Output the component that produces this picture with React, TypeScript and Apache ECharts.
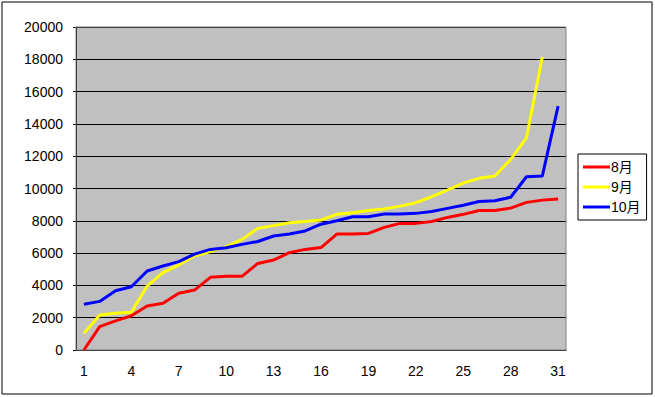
import React, { useEffect, useRef } from "react";
import * as echarts from "echarts";

const days = Array.from({ length: 31 }, (_, i) => String(i + 1));
const seriesNames = ["8月", "9月", "10月"];
const aug = [0, 1450, 1800, 2120, 2720, 2890, 3510, 3710, 4500, 4560, 4560, 5360, 5570, 6030, 6230, 6340, 7180, 7180, 7220, 7590, 7840, 7840, 7960, 8210, 8400, 8640, 8640, 8790, 9140, 9280, 9350];
const sep = [1030, 2170, 2270, 2330, 3960, 4790, 5260, 5820, 6090, 6400, 6850, 7530, 7700, 7880, 7960, 8050, 8400, 8500, 8640, 8730, 8910, 9120, 9490, 9900, 10340, 10630, 10770, 11800, 13140, 18150];
const oct = [2830, 3010, 3670, 3920, 4890, 5200, 5470, 5940, 6230, 6330, 6540, 6720, 7060, 7180, 7370, 7790, 8000, 8250, 8250, 8420, 8420, 8460, 8580, 8770, 8960, 9200, 9240, 9460, 10730, 10770, 15100];
const colors = ["#FF0000", "#FFFF00", "#0000FF"];

const FONT = "'Liberation Sans', 'Noto Sans CJK JP', sans-serif";

export default function App() {
  const ref = useRef<HTMLDivElement>(null);
  useEffect(() => {
    document.body.style.margin = "0";
    const chart = echarts.init(ref.current!, undefined, { renderer: "svg" });
    const data = [aug, sep, oct];
    chart.setOption({
      animation: false,
      backgroundColor: "#FFFFFF",
      textStyle: { fontFamily: FONT },
      graphic: [
        {
          type: "rect",
          shape: { x: 2, y: 2, width: 650, height: 392 },
          style: { fill: "none", stroke: "#000", lineWidth: 1 },
          z: 0,
        },
        {
          type: "rect",
          shape: { x: 76, y: 27, width: 490, height: 323 },
          style: { fill: "none", stroke: "#808080", lineWidth: 1 },
          z: 1,
        },
      ],
      grid: { left: 76, top: 27, width: 490, height: 323, show: true, backgroundColor: "#C0C0C0", borderWidth: 0 },
      legend: {
        orient: "vertical",
        left: 578,
        top: 154,
        data: seriesNames,
        icon: "rect",
        itemWidth: 27,
        itemHeight: 3,
        itemGap: 6,
        padding: [6, 6, 6, 5],
        borderColor: "#000",
        borderWidth: 1,
        backgroundColor: "#FFFFFF",
        textStyle: { fontSize: 14, color: "#000", fontFamily: FONT, padding: [0, 0, 0, -4] },
      },
      xAxis: {
        type: "category",
        data: days,
        boundaryGap: true,
        axisLine: { lineStyle: { color: "#000", width: 1 } },
        axisTick: { inside: true, length: 4, interval: 0, lineStyle: { color: "#000" } },
        axisLabel: { interval: 2, color: "#000", fontSize: 14, margin: 14, fontFamily: FONT },
        splitLine: { show: false },
      },
      yAxis: {
        type: "value",
        min: 0,
        max: 20000,
        interval: 2000,
        axisLine: { show: true, lineStyle: { color: "#000", width: 1 } },
        axisTick: { show: true, length: 3, lineStyle: { color: "#000" } },
        axisLabel: { color: "#000", fontSize: 14, margin: 13, fontFamily: FONT, formatter: (v: number) => String(v) },
        splitLine: { show: true, lineStyle: { color: "#000", width: 1 } },
      },
      series: seriesNames.map((name, i) => ({
        name,
        type: "line",
        data: data[i],
        showSymbol: false,
        symbol: "none",
        lineStyle: { color: colors[i], width: 3 },
        itemStyle: { color: colors[i] },
        z: 3 + i,
      })),
    });
    return () => chart.dispose();
  }, []);
  return <div ref={ref} style={{ position: "fixed", left: 0, top: 0, width: 655, height: 397 }} />;
}
